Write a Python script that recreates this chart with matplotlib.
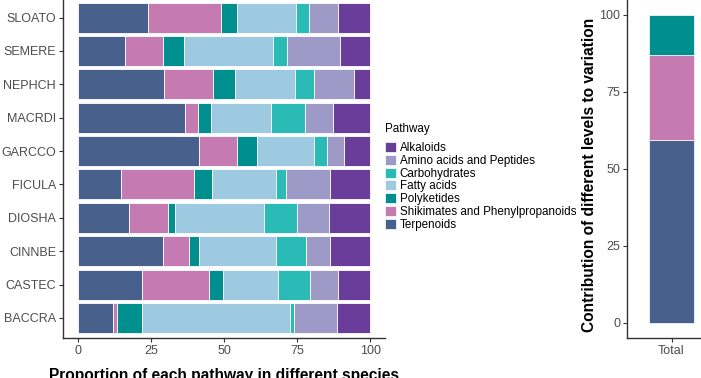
import matplotlib
matplotlib.use("Agg")
import matplotlib.pyplot as plt
from matplotlib.patches import Patch
import numpy as np

plt.rcParams['font.family'] = ['Liberation Sans', 'DejaVu Sans']

species = ["SLOATO", "SEMERE", "NEPHCH", "MACRDI", "GARCCO",
           "FICULA", "DIOSHA", "CINNBE", "CASTEC", "BACCRA"]

pathways = ["Terpenoids", "Shikimates and Phenylpropanoids", "Polyketides",
            "Fatty acids", "Carbohydrates", "Amino acids and Peptides", "Alkaloids"]

# segment sizes (percent)
terpenoids  = [23.9, 16.2, 29.6, 36.8, 41.4, 14.9, 17.6, 29.3, 22.1, 12.2]
shikimates  = [25.2, 12.9, 16.8,  4.4, 13.2, 24.8, 13.2,  8.9, 22.9,  1.3]
polyketides = [ 5.3,  7.4,  7.2,  4.3,  6.6,  6.3,  2.5,  3.3,  4.8,  8.4]
fatty_acids = [20.3, 30.4, 20.5, 20.6, 19.4, 21.6, 30.5, 26.4, 18.7, 50.7]
carbohyd    = [ 4.2,  4.7,  6.5, 11.4,  4.6,  3.7, 11.0, 10.2, 11.0,  1.4]
amino_acids = [ 9.9, 18.1, 13.7,  9.7,  5.9, 14.8, 11.1,  8.2,  9.4, 14.6]
alkaloids   = [11.2, 10.3,  5.7, 12.8,  8.9, 13.9, 14.1, 13.7, 11.1, 11.4]

series = [terpenoids, shikimates, polyketides, fatty_acids, carbohyd, amino_acids, alkaloids]

colors = {
    "Terpenoids": "#48608c",
    "Shikimates and Phenylpropanoids": "#c57ab1",
    "Polyketides": "#008f8f",
    "Fatty acids": "#9ecae1",
    "Carbohydrates": "#2bbbb7",
    "Amino acids and Peptides": "#9e9ac8",
    "Alkaloids": "#6a3d9a",
}

total_levels = ["Terpenoids", "Shikimates and Phenylpropanoids", "Polyketides"]
total_values = [59.5, 27.5, 13.0]
total_label = ["Total"]

W, H = 701, 378
fig = plt.figure(figsize=(W / 100, H / 100), dpi=100)

axcol = "#333333"
tickcol = "#4d4d4d"

# ---------- left panel ----------
ax = fig.add_axes([63 / W, (H - 338) / H, (385 - 63) / W, (338 + 2.5) / H])
y = np.arange(len(species))
left = np.zeros(len(species))
for name, vals in zip(pathways, series):
    vals = np.array(vals)
    ax.barh(y, vals, left=left, height=0.9, color=colors[name],
            edgecolor="white", linewidth=0.6)
    left += vals
ax.set_xlim(-5, 105)
ax.set_ylim(len(species) - 0.4, -0.6)
ax.set_yticks(y)
ax.set_yticklabels(species)
ax.set_xticks([0, 25, 50, 75, 100])
ax.set_xticklabels(["0", "25", "50", "75", "100"])
for s in ["top", "right"]:
    ax.spines[s].set_visible(False)
for s in ["left", "bottom"]:
    ax.spines[s].set_color(axcol)
    ax.spines[s].set_linewidth(1.0)
ax.tick_params(axis="both", colors=axcol, labelcolor=tickcol, labelsize=9,
               length=3, width=0.8, pad=2)
ax.set_xlabel("Proportion of each pathway in different species",
              fontsize=11.2, fontweight="bold", color="black", labelpad=8)

# legend
fig.text(385 / W, 1 - 123 / H, "Pathway", fontsize=8.4, color="black",
         ha="left", va="top")
handles = [Patch(facecolor=colors[p], edgecolor="white", linewidth=0.5)
           for p in pathways[::-1]]
leg = fig.legend(handles, pathways[::-1],
                 loc="upper left", bbox_to_anchor=(384.5 / W, 1 - 142 / H),
                 frameon=False, fontsize=8.4,
                 handlelength=1.0, handleheight=0.95, handletextpad=0.3,
                 labelspacing=0.066, borderpad=0, borderaxespad=0)
for t in leg.get_texts():
    t.set_color("black")

# ---------- right panel ----------
ax2 = fig.add_axes([627 / W, (H - 338) / H, (716 - 627) / W, (338 + 0.4) / H])
bottom = 0.0
for name, v in zip(total_levels, total_values):
    ax2.bar([0], [v], bottom=bottom, width=0.6, color=colors[name],
            edgecolor="white", linewidth=0.5)
    bottom += v
ax2.set_xlim(-0.6, 0.6)
ax2.set_ylim(-5, 105)
ax2.set_xticks([0])
ax2.set_xticklabels(total_label)
ax2.set_yticks([0, 25, 50, 75, 100])
for s in ["top", "right"]:
    ax2.spines[s].set_visible(False)
for s in ["left", "bottom"]:
    ax2.spines[s].set_color(axcol)
    ax2.spines[s].set_linewidth(1.0)
ax2.tick_params(axis="both", colors=axcol, labelcolor=tickcol, labelsize=9,
                length=3, width=0.8, pad=2)
ax2.set_ylabel("Contribution of different levels to variation",
               fontsize=11.2, fontweight="bold", color="black")
ax2.yaxis.set_label_coords(-0.337, 0.5 - 6 / 338)

fig.savefig("out.png", dpi=100)
